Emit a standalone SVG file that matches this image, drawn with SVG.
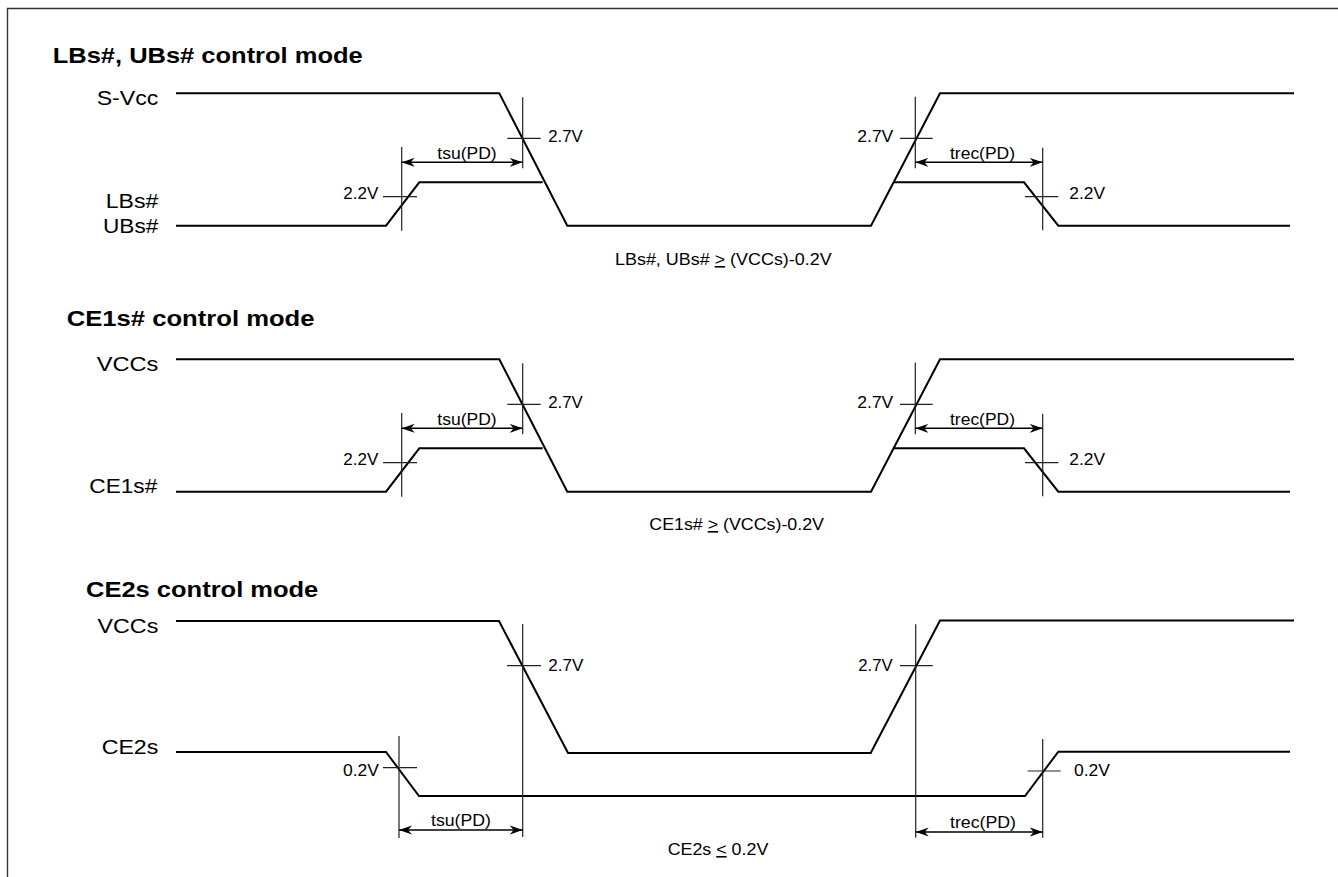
<svg xmlns="http://www.w3.org/2000/svg" width="1338" height="877" viewBox="0 0 1338 877">
<style>
text{font-family:"Liberation Sans",Arial,Helvetica,sans-serif;fill:#000}
.ttl{font-size:22px;font-weight:bold}
.lbl{font-size:20px}
.s{font-size:16px}
.wave{fill:none;stroke:#000;stroke-width:2;stroke-linejoin:miter}
.tick{fill:none;stroke:#222;stroke-width:1.2}
.dim{fill:none;stroke:#000;stroke-width:1.4;marker-start:url(#ah);marker-end:url(#ah)}
.u{text-decoration:underline}
</style>
<defs>
<marker id="ah" viewBox="0 0 13 10" refX="13" refY="5" markerWidth="13" markerHeight="10" orient="auto-start-reverse" markerUnits="userSpaceOnUse">
<path d="M13,5 L0,0.5 L4,5 L0,9.5 Z" fill="#000"/>
</marker>
</defs>
<rect width="1338" height="877" fill="#fff"/>
<path d="M7.5,877 V8.5 H1338" fill="none" stroke="#333" stroke-width="1.4"/>

<g id="sec1">
<text class="ttl" x="52.7" y="63" textLength="310" lengthAdjust="spacingAndGlyphs">LBs#, UBs# control mode</text>
<text class="lbl" x="96.7" y="105" textLength="61.6" lengthAdjust="spacingAndGlyphs">S-Vcc</text>
<text class="lbl" x="105.7" y="208.3" textLength="52.6" lengthAdjust="spacingAndGlyphs">LBs#</text>
<text class="lbl" x="103" y="232.7" textLength="55.3" lengthAdjust="spacingAndGlyphs">UBs#</text>
<g id="sec1-waves">
<path class="wave" d="M176,93.3 H499.3 L567.3,225.7 H871 L940,93.3 H1294"/>
<path class="wave" d="M176,225.7 H386 L419.3,182.3 H542.7"/>
<path class="wave" d="M894,182.3 H1024 L1058.3,225.7 H1290"/>
</g>
<g id="sec1-marks">
<path class="tick" d="M401.7,147 V230.7 M383,196.7 H417"/>
<path class="tick" d="M522.7,97.3 V168.3 M507.3,138.3 H540.7"/>
<path class="tick" d="M915.3,96.7 V168.3 M900,138.3 H932.7"/>
<path class="tick" d="M1042.7,147.7 V230.3 M1025,196.7 H1058.3"/>
</g>
<g id="sec1-dims">
<line class="dim" x1="401.7" y1="162.3" x2="522.7" y2="162.3"/>
<line class="dim" x1="915.3" y1="162.3" x2="1042.7" y2="162.3"/>
</g>
<text class="s" x="343.3" y="199" textLength="35" lengthAdjust="spacingAndGlyphs">2.2V</text>
<text class="s" x="437.3" y="158.5" textLength="59.3" lengthAdjust="spacingAndGlyphs">tsu(PD)</text>
<text class="s" x="548.3" y="142.3" textLength="34.4" lengthAdjust="spacingAndGlyphs">2.7V</text>
<text class="s" x="857.3" y="142.3" textLength="36" lengthAdjust="spacingAndGlyphs">2.7V</text>
<text class="s" x="950" y="158.5" textLength="65" lengthAdjust="spacingAndGlyphs">trec(PD)</text>
<text class="s" x="1069.3" y="199" textLength="35.7" lengthAdjust="spacingAndGlyphs">2.2V</text>
<text class="s" x="615" y="265" textLength="216.7" lengthAdjust="spacingAndGlyphs">LBs#, UBs# <tspan class="u">&gt;</tspan> (VCCs)-0.2V</text>
</g>

<g id="sec2">
<text class="ttl" x="66.7" y="325.5" textLength="247.8" lengthAdjust="spacingAndGlyphs">CE1s# control mode</text>
<text class="lbl" x="96.7" y="370.7" textLength="61.6" lengthAdjust="spacingAndGlyphs">VCCs</text>
<text class="lbl" x="89.3" y="492.7" textLength="68" lengthAdjust="spacingAndGlyphs">CE1s#</text>
<g id="sec2-waves" transform="translate(0,266)">
<path class="wave" d="M176,93.3 H499.3 L567.3,225.7 H871 L940,93.3 H1294"/>
<path class="wave" d="M176,225.7 H386 L419.3,182.3 H542.7"/>
<path class="wave" d="M894,182.3 H1024 L1058.3,225.7 H1290"/>
</g>
<g id="sec2-marks" transform="translate(0,266)">
<path class="tick" d="M401.7,147 V230.7 M383,196.7 H417"/>
<path class="tick" d="M522.7,97.3 V168.3 M507.3,138.3 H540.7"/>
<path class="tick" d="M915.3,96.7 V168.3 M900,138.3 H932.7"/>
<path class="tick" d="M1042.7,147.7 V230.3 M1025,196.7 H1058.3"/>
</g>
<g id="sec2-dims">
<line class="dim" x1="401.7" y1="428.3" x2="522.7" y2="428.3"/>
<line class="dim" x1="915.3" y1="428.3" x2="1042.7" y2="428.3"/>
</g>
<text class="s" x="343.3" y="465" textLength="35" lengthAdjust="spacingAndGlyphs">2.2V</text>
<text class="s" x="437.3" y="424.5" textLength="59.3" lengthAdjust="spacingAndGlyphs">tsu(PD)</text>
<text class="s" x="548.3" y="408.3" textLength="34.4" lengthAdjust="spacingAndGlyphs">2.7V</text>
<text class="s" x="857.3" y="408.3" textLength="36" lengthAdjust="spacingAndGlyphs">2.7V</text>
<text class="s" x="950" y="424.5" textLength="65" lengthAdjust="spacingAndGlyphs">trec(PD)</text>
<text class="s" x="1069.3" y="465" textLength="35.7" lengthAdjust="spacingAndGlyphs">2.2V</text>
<text class="s" x="649.3" y="530" textLength="174.7" lengthAdjust="spacingAndGlyphs">CE1s# <tspan class="u">&gt;</tspan> (VCCs)-0.2V</text>
</g>

<g id="sec3">
<text class="ttl" x="86" y="596.6" textLength="232.3" lengthAdjust="spacingAndGlyphs">CE2s control mode</text>
<text class="lbl" x="97.5" y="632.7" textLength="60.8" lengthAdjust="spacingAndGlyphs">VCCs</text>
<text class="lbl" x="101.7" y="754" textLength="56.6" lengthAdjust="spacingAndGlyphs">CE2s</text>
<g id="sec3-waves">
<path class="wave" d="M176,621 H499 L568,753 H870.7 L940,620.5 H1294"/>
<path class="wave" d="M176,752 H386 L419,796 H1025 L1058.3,751.7 H1290"/>
</g>
<g id="sec3-marks">
<path class="tick" d="M399,736 V838 M383,767.7 H417"/>
<path class="tick" d="M522.7,624 V837 M507,665.7 H541"/>
<path class="tick" d="M915.7,624.3 V837.7 M900,665.7 H932.7"/>
<path class="tick" d="M1042.7,739 V837.7 M1027.7,771 H1060.7"/>
</g>
<g id="sec3-dims">
<line class="dim" x1="399" y1="830" x2="522.7" y2="830"/>
<line class="dim" x1="915.7" y1="832" x2="1042.7" y2="832"/>
</g>
<text class="s" x="343" y="776" textLength="36" lengthAdjust="spacingAndGlyphs">0.2V</text>
<text class="s" x="548.3" y="671" textLength="35" lengthAdjust="spacingAndGlyphs">2.7V</text>
<text class="s" x="858.3" y="671" textLength="34.4" lengthAdjust="spacingAndGlyphs">2.7V</text>
<text class="s" x="1074" y="776" textLength="36" lengthAdjust="spacingAndGlyphs">0.2V</text>
<text class="s" x="431" y="825.5" textLength="60" lengthAdjust="spacingAndGlyphs">tsu(PD)</text>
<text class="s" x="950" y="827.5" textLength="66" lengthAdjust="spacingAndGlyphs">trec(PD)</text>
<text class="s" x="667.7" y="855" textLength="100.6" lengthAdjust="spacingAndGlyphs">CE2s <tspan class="u">&lt;</tspan> 0.2V</text>
</g>
</svg>
